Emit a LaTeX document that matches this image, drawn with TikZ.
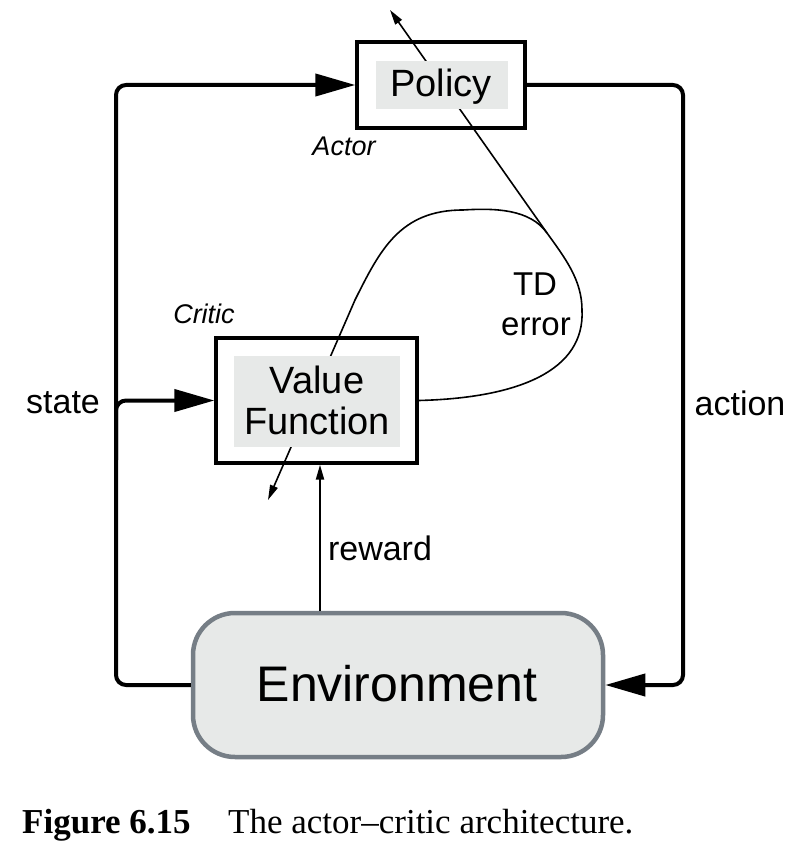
\documentclass[tikz,border=0pt]{standalone}
\usepackage{fontspec}
\setmainfont{Liberation Sans}
\newfontfamily\capfont{Liberation Serif}
\usetikzlibrary{arrows.meta,backgrounds}
\definecolor{boxgray}{RGB}{231,233,232}
\definecolor{envedge}{RGB}{118,126,134}
\begin{document}
\begin{tikzpicture}[x=1pt,y=-1pt,
  outbox/.style={draw=black, line width=3.3pt, inner sep=0pt},
  inbox/.style={fill=boxgray, inner sep=0pt},
  loopline/.style={line width=4pt, rounded corners=10pt},
  bigtip/.style={-{Triangle[length=40pt,width=22pt]}},
  thinline/.style={line width=1.6pt},
  smalltip/.style={-{Triangle[length=15pt,width=8pt]}},
  boxtext/.style={font=\fontsize{38}{41}\selectfont, anchor=base, inner sep=0pt},
  lbl/.style={font=\fontsize{34}{40}\selectfont, anchor=base, inner sep=0pt},
  role/.style={font=\fontsize{27}{32}\selectfont\itshape, anchor=base, inner sep=0pt},
  captext/.style={font=\capfont\fontsize{35}{40}\selectfont, anchor=base west, inner sep=0pt}
]
\useasboundingbox (0,0) rectangle (804,850);

% Policy (actor)
\node[outbox, minimum width=168pt, minimum height=86pt] (policy) at (441,85) {};
\node[inbox, minimum width=132pt, minimum height=48pt] (polin) at (442,85) {};
\node[boxtext] (poltxt) at (441,97) {Policy};
\node[role] (actor) at (344,156) {Actor};

% Value function (critic)
\node[outbox, minimum width=201pt, minimum height=125pt] (vf) at (316.5,400.5) {};
\node[inbox, minimum width=166pt, minimum height=91pt] (vfin) at (317,401.5) {};
\node[boxtext] (vftxt1) at (317,393) {Value};
\node[boxtext] (vftxt2) at (317,434) {Function};
\node[role] (critic) at (204,323) {Critic};

% Environment
\node[draw=envedge, fill=boxgray, line width=4.5pt, rounded corners=42pt,
      minimum width=410pt, minimum height=144pt, inner sep=0pt] (env) at (398,685) {};
\node[font=\fontsize{50}{60}\selectfont, anchor=base, inner sep=0pt] (envtxt) at (397,701) {Environment};

% helper coordinates
\coordinate (sx) at (116,0);
\coordinate (sb) at (116,460);
\coordinate (ax) at (683,0);
\coordinate (rx) at (320,0);
\coordinate (tdj) at (547,233);
\coordinate (actout) at (390,10);
\coordinate (critout) at (268,500);

% state loop
\draw[loopline, bigtip] (env.west) -| (sx |- policy.west) -- (policy.west);
\draw[loopline, bigtip] (sb) |- (vf.west);
% action loop
\draw[loopline, bigtip] (policy.east) -| (ax |- env.east) -- (env.east);
% reward
\draw[line width=2pt, smalltip] (env.north -| rx) -- (vf.south -| rx);

% TD error curves
\begin{scope}[on background layer]
\draw[thinline, smalltip] (vf.east) .. controls (520,398) and (585,370) .. (582,310)
  .. controls (582,280) and (565,258) .. (tdj)
  .. controls (530,209) and (495,208) .. (463,210)
  .. controls (400,210) and (380,250) .. (355,300) -- (critout);
\draw[thinline, smalltip] (tdj) -- (actout);
\end{scope}

% labels
\node[lbl] (state) at (63,413) {state};
\node[lbl] (action) at (740,415) {action};
\node[lbl] (reward) at (380,560) {reward};
\node[lbl, font=\fontsize{33}{40}\selectfont] (td) at (535,295) {TD};
\node[lbl, font=\fontsize{33}{40}\selectfont] (err) at (536,335) {error};

% caption
\node[captext, font=\capfont\fontsize{35}{40}\selectfont\bfseries] (figno) at (22,833) {Figure 6.15};
\node[captext] (captxt) at (228,833) {The actor–critic architecture.};
\end{tikzpicture}
\end{document}
